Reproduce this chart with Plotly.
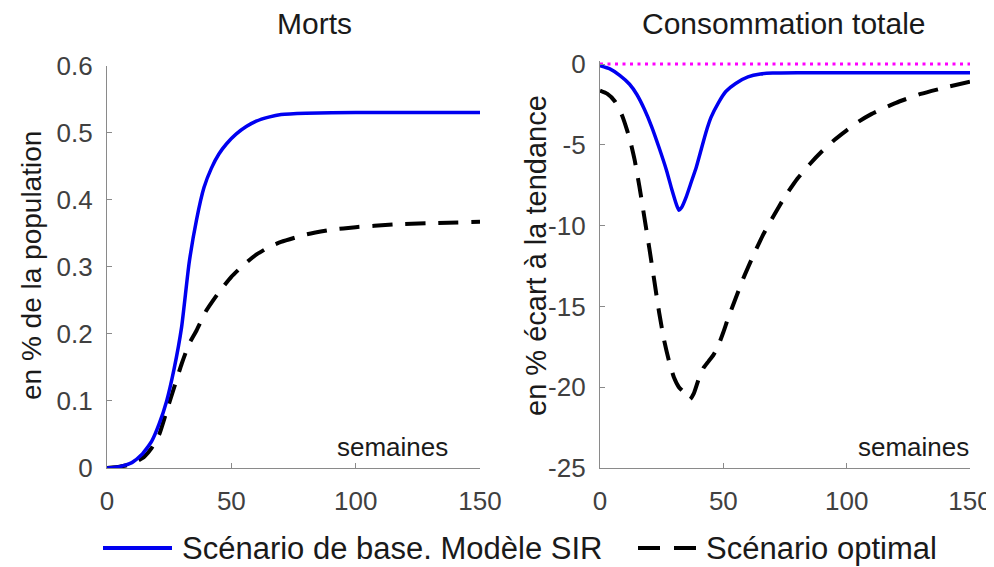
import plotly.graph_objects as go

# ---------------- data ----------------
# Left panel: Morts (en % de la population)
deaths_base_weeks = [0, 5, 10, 14, 18, 21, 24, 27, 30, 33, 36, 39, 42, 45, 48, 52, 56, 60, 65, 70, 80, 100, 150]
deaths_base = [0, 0.002, 0.008, 0.02, 0.04, 0.066, 0.10, 0.148, 0.21, 0.305, 0.37, 0.418, 0.447, 0.468,
               0.483, 0.498, 0.509, 0.517, 0.523, 0.527, 0.529, 0.53, 0.53]

deaths_opt_weeks = [0, 5, 10, 15, 18, 21, 24, 27, 30, 33, 36, 40, 45, 50, 55, 60, 65, 70, 80, 90, 100, 115, 130, 150]
deaths_opt = [0, 0.002, 0.006, 0.017, 0.03, 0.05, 0.085, 0.12, 0.155, 0.185, 0.205, 0.235, 0.262, 0.285,
              0.303, 0.318, 0.329, 0.337, 0.348, 0.355, 0.359, 0.363, 0.365, 0.367]

# Right panel: Consommation totale (en % écart à la tendance)
cons_base_weeks = [0, 4, 8, 12, 15, 18, 21, 24, 27, 29, 31, 32, 33, 35, 37, 39, 41, 43, 45, 48, 51, 55, 60,
                   65, 70, 80, 100, 150]
cons_base = [-0.1, -0.3, -0.7, -1.25, -1.9, -2.8, -3.9, -5.2, -6.6, -7.7, -8.7, -9.05, -8.9, -8.2, -7.3, -6.4,
             -5.3, -4.2, -3.3, -2.4, -1.7, -1.2, -0.8, -0.62, -0.56, -0.54, -0.54, -0.54]

cons_opt_weeks = [0, 3, 6, 9, 12, 14, 16, 18, 20, 22, 24, 26, 28, 30, 32, 34, 36.5, 38, 40, 42, 44, 46, 48, 50,
                  52, 55, 58, 62, 66, 70, 75, 80, 85, 90, 95, 100, 105, 110, 120, 130, 140, 150]
cons_opt = [-1.65, -1.85, -2.3, -3.2, -4.6, -5.9, -7.6, -9.5, -11.4, -13.4, -15.4, -17.1, -18.4, -19.4, -20.0,
            -20.3, -20.75, -20.4, -19.5, -18.8, -18.4, -18.0, -17.4, -16.6, -15.7, -14.5, -13.3, -11.9, -10.6,
            -9.5, -8.2, -7.1, -6.2, -5.4, -4.7, -4.1, -3.55, -3.1, -2.4, -1.85, -1.45, -1.1]

trend_weeks = [0, 150]
trend = [0, 0]

x_ticks = [0, 50, 100, 150]
left_y_ticks = [0, 0.1, 0.2, 0.3, 0.4, 0.5, 0.6]
left_y_labels = ["0", "0.1", "0.2", "0.3", "0.4", "0.5", "0.6"]
right_y_ticks = [-25, -20, -15, -10, -5, 0]
right_y_labels = ["-25", "-20", "-15", "-10", "-5", "0"]

titles = ["Morts", "Consommation totale"]
y_titles = ["en % de la population", "en % écart à la tendance"]
legend_names = ["Scénario de base. Modèle SIR", "Scénario optimal"]

# ---------------- style ----------------
PAGE_OFF = 8                      # default body margin of the html page
W, H = 994 - PAGE_OFF, 567 - PAGE_OFF
FONT = "Liberation Sans, Arial, sans-serif"
BLUE = "#0000f0"
BLACK = "#000000"
MAGENTA = "#ff00ff"
AXC = "#8a8a8a"
DASH = "20px,13px"


def px(x):
    return (x - PAGE_OFF) / W


def py(y):
    return 1 - (y - PAGE_OFF) / H


fig = go.Figure()

fig.add_trace(go.Scatter(x=deaths_opt_weeks, y=deaths_opt, mode="lines", xaxis="x", yaxis="y",
                         line=dict(color=BLACK, width=4, dash=DASH, shape="spline", smoothing=0.5),
                         name=legend_names[1]))
fig.add_trace(go.Scatter(x=deaths_base_weeks, y=deaths_base, mode="lines", xaxis="x", yaxis="y",
                         line=dict(color=BLUE, width=3.5, shape="spline", smoothing=0.5),
                         name=legend_names[0]))

fig.add_trace(go.Scatter(x=trend_weeks, y=trend, mode="lines", xaxis="x2", yaxis="y2",
                         line=dict(color=MAGENTA, width=3, dash="3px,4.5px"), name="tendance"))
fig.add_trace(go.Scatter(x=cons_opt_weeks, y=cons_opt, mode="lines", xaxis="x2", yaxis="y2",
                         line=dict(color=BLACK, width=4, dash=DASH, shape="spline", smoothing=0.5),
                         name=legend_names[1]))
fig.add_trace(go.Scatter(x=cons_base_weeks, y=cons_base, mode="lines", xaxis="x2", yaxis="y2",
                         line=dict(color=BLUE, width=3.5, shape="spline", smoothing=0.5),
                         name=legend_names[0]))

axis_common = dict(showline=True, linecolor=AXC, linewidth=1.3, ticks="inside", ticklen=5,
                   tickcolor=AXC, tickwidth=1, showgrid=False, zeroline=False, automargin=False,
                   tickfont=dict(family=FONT, size=26, color="#404040"), fixedrange=True)

fig.update_layout(
    width=W, height=H,
    margin=dict(l=0, r=0, t=0, b=0, autoexpand=False),
    paper_bgcolor="white", plot_bgcolor="white",
    showlegend=False,
    xaxis=dict(domain=[px(107), px(480)], range=[0, 150], tickvals=x_ticks, anchor="y",
               ticklabelstandoff=10, **axis_common),
    yaxis=dict(domain=[py(468), py(65.5)], range=[0, 0.6], tickvals=left_y_ticks, ticktext=left_y_labels,
               anchor="x", ticklabelstandoff=8, **axis_common),
    xaxis2=dict(domain=[px(600), px(970)], range=[0, 150], tickvals=x_ticks, anchor="y2",
                ticklabelstandoff=10, **axis_common),
    yaxis2=dict(domain=[py(468), py(60.8)], range=[-25, 0.2], tickvals=right_y_ticks, ticktext=right_y_labels,
                anchor="x2", ticklabelstandoff=8, **axis_common),
)

ann = []
# titles
ann.append(dict(text=titles[0], x=px(314), y=py(24), xref="paper", yref="paper", showarrow=False,
                xanchor="center", yanchor="middle", font=dict(family=FONT, size=30, color="#1a1a1a")))
ann.append(dict(text=titles[1], x=px(783.5), y=py(24), xref="paper", yref="paper", showarrow=False,
                xanchor="center", yanchor="middle", font=dict(family=FONT, size=30, color="#1a1a1a")))
# y titles
ann.append(dict(text=y_titles[0], x=px(31), y=py(266), xref="paper", yref="paper", showarrow=False,
                textangle=-90, xanchor="center", yanchor="middle",
                font=dict(family=FONT, size=28, color="#1a1a1a")))
ann.append(dict(text=y_titles[1], x=px(536), y=py(256), xref="paper", yref="paper", showarrow=False,
                textangle=-90, xanchor="center", yanchor="middle",
                font=dict(family=FONT, size=29, color="#1a1a1a")))
# "semaines"
for cx in (392, 913):
    ann.append(dict(text="semaines", x=px(cx), y=py(447), xref="paper", yref="paper", showarrow=False,
                    xanchor="center", yanchor="middle", font=dict(family=FONT, size=26, color="#1a1a1a")))
# legend labels
ann.append(dict(text=legend_names[0], x=px(180), y=py(548), xref="paper", yref="paper", showarrow=False,
                xanchor="left", yanchor="middle", font=dict(family=FONT, size=31, color="#1a1a1a")))
ann.append(dict(text=legend_names[1], x=px(704), y=py(548), xref="paper", yref="paper", showarrow=False,
                xanchor="left", yanchor="middle", font=dict(family=FONT, size=31, color="#1a1a1a")))
fig.update_layout(annotations=ann)

# legend line samples
fig.add_shape(type="line", xref="paper", yref="paper", x0=px(103), x1=px(172), y0=py(548), y1=py(548),
              line=dict(color=BLUE, width=4))
fig.add_shape(type="line", xref="paper", yref="paper", x0=px(638), x1=px(700), y0=py(548), y1=py(548),
              line=dict(color=BLACK, width=4, dash="22px,14px"))

fig.write_html("out.html")
